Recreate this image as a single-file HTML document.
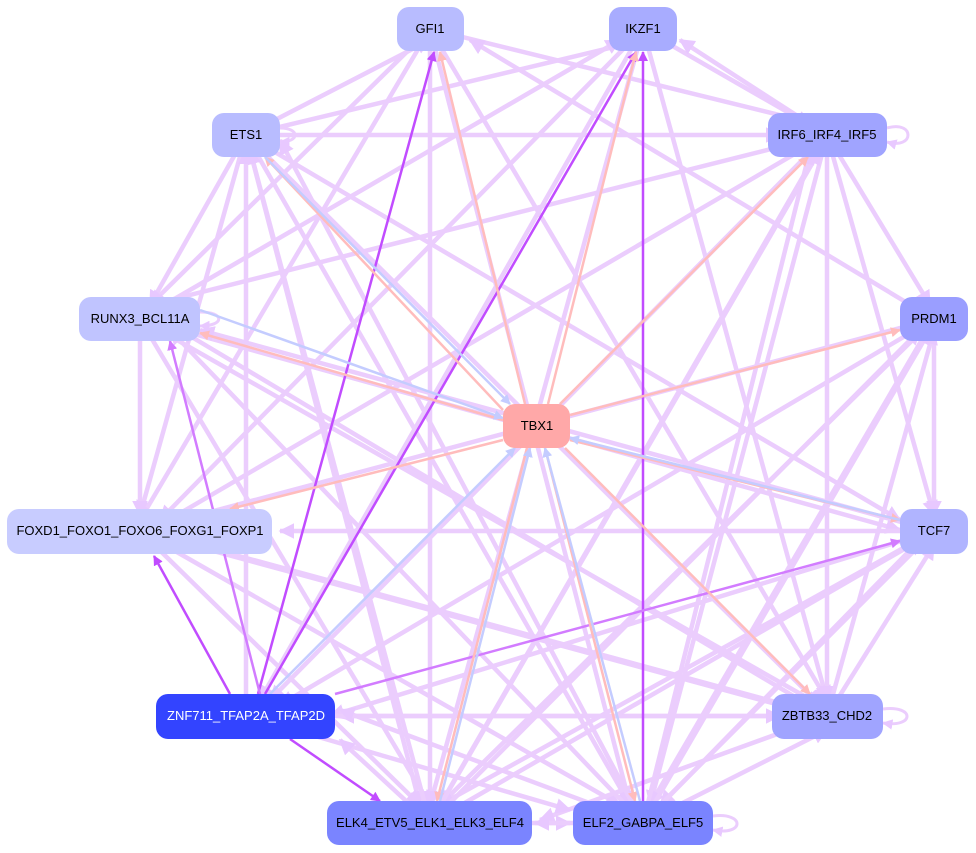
<!DOCTYPE html>
<html><head><meta charset="utf-8"><style>
html,body{margin:0;padding:0;background:#fff;}
svg{display:block;font-family:"Liberation Sans",sans-serif;}
</style></head><body>
<svg width="976" height="853" viewBox="0 0 976 853">
<defs>
<marker id="a" viewBox="0 0 10 10" refX="9" refY="5" markerWidth="3.5" markerHeight="3.5" orient="auto"><path d="M0,0L10,5L0,10z" fill="#e8c8ff"/></marker>
<marker id="p" viewBox="0 0 10 10" refX="9" refY="5" markerWidth="4" markerHeight="4" orient="auto"><path d="M0,0L10,5L0,10z" fill="#c14cff"/></marker>
<marker id="m" viewBox="0 0 10 10" refX="9" refY="5" markerWidth="4" markerHeight="4" orient="auto"><path d="M0,0L10,5L0,10z" fill="#d27cff"/></marker>
<marker id="r" viewBox="0 0 10 10" refX="9" refY="5" markerWidth="4" markerHeight="4" orient="auto"><path d="M0,0L10,5L0,10z" fill="#ffbcbc"/></marker>
<marker id="b" viewBox="0 0 10 10" refX="9" refY="5" markerWidth="4" markerHeight="4" orient="auto"><path d="M0,0L10,5L0,10z" fill="#c4ccff"/></marker>
</defs>
<g stroke="#ebcdfd" stroke-width="4.5" fill="none" marker-end="url(#a)">
<line x1="246" y1="135" x2="430" y2="40"/>
<line x1="246" y1="135" x2="643" y2="40"/>
<line x1="246" y1="135" x2="780" y2="135"/>
<line x1="246" y1="135" x2="150" y2="305"/>
<line x1="246" y1="135" x2="140" y2="515"/>
<line x1="246" y1="135" x2="820" y2="705"/>
<line x1="246" y1="135" x2="420" y2="805"/>
<line x1="246" y1="135" x2="630" y2="805"/>
<line x1="246" y1="135" x2="900" y2="520"/>
<line x1="643" y1="29" x2="810" y2="125"/>
<line x1="643" y1="29" x2="160" y2="520"/>
<line x1="643" y1="29" x2="430" y2="805"/>
<line x1="643" y1="29" x2="827" y2="700"/>
<line x1="643" y1="29" x2="260" y2="700"/>
<line x1="430" y1="29" x2="430" y2="805"/>
<line x1="430" y1="29" x2="140" y2="520"/>
<line x1="430" y1="29" x2="630" y2="805"/>
<line x1="430" y1="29" x2="827" y2="700"/>
<line x1="430" y1="29" x2="820" y2="125"/>
<line x1="430" y1="29" x2="150" y2="305"/>
<line x1="827" y1="135" x2="680" y2="40"/>
<line x1="827" y1="135" x2="930" y2="305"/>
<line x1="827" y1="135" x2="934" y2="515"/>
<line x1="827" y1="135" x2="827" y2="700"/>
<line x1="827" y1="135" x2="160" y2="525"/>
<line x1="827" y1="135" x2="440" y2="805"/>
<line x1="827" y1="135" x2="650" y2="805"/>
<line x1="827" y1="135" x2="150" y2="305"/>
<line x1="827" y1="135" x2="270" y2="700"/>
<line x1="934" y1="319" x2="470" y2="40"/>
<line x1="934" y1="319" x2="934" y2="515"/>
<line x1="934" y1="319" x2="180" y2="520"/>
<line x1="934" y1="319" x2="440" y2="805"/>
<line x1="934" y1="319" x2="650" y2="805"/>
<line x1="934" y1="319" x2="280" y2="705"/>
<line x1="140" y1="319" x2="140" y2="515"/>
<line x1="140" y1="319" x2="430" y2="805"/>
<line x1="140" y1="319" x2="820" y2="705"/>
<line x1="140" y1="319" x2="900" y2="530"/>
<line x1="140" y1="319" x2="620" y2="40"/>
<line x1="934" y1="531" x2="280" y2="531"/>
<line x1="934" y1="531" x2="440" y2="805"/>
<line x1="934" y1="531" x2="660" y2="805"/>
<line x1="934" y1="531" x2="330" y2="716"/>
<line x1="934" y1="531" x2="200" y2="330"/>
<line x1="140" y1="531" x2="820" y2="716"/>
<line x1="140" y1="531" x2="620" y2="805"/>
<line x1="140" y1="531" x2="420" y2="805"/>
<line x1="827" y1="716" x2="340" y2="716"/>
<line x1="827" y1="716" x2="180" y2="540"/>
<line x1="827" y1="716" x2="540" y2="820"/>
<line x1="827" y1="716" x2="180" y2="330"/>
<line x1="827" y1="716" x2="934" y2="545"/>
<line x1="827" y1="716" x2="934" y2="330"/>
<line x1="246" y1="716" x2="780" y2="716"/>
<line x1="246" y1="716" x2="570" y2="810"/>
<line x1="430" y1="823" x2="570" y2="823"/>
<line x1="643" y1="823" x2="535" y2="823"/>
<line x1="430" y1="823" x2="340" y2="740"/>
<line x1="643" y1="823" x2="340" y2="710"/>
<line x1="643" y1="823" x2="170" y2="330"/>
<line x1="643" y1="823" x2="280" y2="140"/>
<line x1="430" y1="823" x2="820" y2="150"/>
<line x1="430" y1="823" x2="920" y2="540"/>
<line x1="430" y1="823" x2="920" y2="330"/>
<line x1="643" y1="823" x2="810" y2="150"/>
<line x1="643" y1="823" x2="920" y2="540"/>
<line x1="643" y1="823" x2="930" y2="330"/>
<line x1="643" y1="823" x2="827" y2="730"/>
<line x1="430" y1="823" x2="250" y2="150"/>
<line x1="246" y1="716" x2="246" y2="150"/>
</g>
<g fill="none" stroke="#ebcdfd" stroke-width="3" marker-end="url(#a)">
<path d="M887,128 C915,120 915,150 887,142"/>
<path d="M280,128 C300,128 300,142 280,142"/>
<path d="M200,312 C225,312 225,326 200,326"/>
<path d="M883,709 C915,705 915,728 883,723"/>
<path d="M713,816 C745,812 745,836 713,830"/>
</g>
<g stroke="#c14cff" stroke-width="2.5" marker-end="url(#p)">
<line x1="258" y1="694" x2="434" y2="52"/>
<line x1="265" y1="694" x2="636" y2="52"/>
<line x1="643" y1="801" x2="643" y2="52"/>
<line x1="230" y1="694" x2="154" y2="556"/>
<line x1="290" y1="739" x2="380" y2="801"/>
</g>
<g stroke="#d27cff" stroke-width="2.5" marker-end="url(#m)">
<line x1="335" y1="694" x2="900" y2="541"/>
<line x1="260" y1="694" x2="170" y2="341"/>
</g>
<g stroke="#ffbcbc" stroke-width="2.5" marker-end="url(#r)">
<line x1="525" y1="404" x2="440" y2="52"/>
<line x1="548" y1="404" x2="636" y2="52"/>
<line x1="560" y1="404" x2="808" y2="157"/>
<line x1="570" y1="415" x2="900" y2="330"/>
<line x1="503" y1="420" x2="200" y2="333"/>
<line x1="503" y1="410" x2="265" y2="157"/>
<line x1="503" y1="440" x2="230" y2="509"/>
<line x1="570" y1="440" x2="900" y2="520"/>
<line x1="565" y1="448" x2="810" y2="694"/>
<line x1="527" y1="448" x2="437" y2="801"/>
<line x1="545" y1="448" x2="635" y2="801"/>
</g>
<g stroke="#c4ccff" stroke-width="2.5" marker-end="url(#b)">
<line x1="270" y1="694" x2="515" y2="448"/>
<line x1="200" y1="310" x2="503" y2="418"/>
<line x1="900" y1="520" x2="570" y2="438"/>
<line x1="440" y1="801" x2="530" y2="448"/>
<line x1="640" y1="801" x2="545" y2="448"/>
<line x1="265" y1="157" x2="510" y2="404"/>
</g>
<g stroke="none">
<rect x="397" y="7" width="67" height="44" rx="12" fill="#b8bcff"/>
<rect x="609" y="7" width="68" height="44" rx="12" fill="#a8acff"/>
<rect x="212" y="113" width="68" height="44" rx="12" fill="#b8bcff"/>
<rect x="768" y="113" width="119" height="44" rx="12" fill="#a0a4ff"/>
<rect x="79" y="297" width="121" height="44" rx="12" fill="#c0c4ff"/>
<rect x="900" y="297" width="68" height="44" rx="12" fill="#9a9eff"/>
<rect x="503" y="404" width="67" height="44" rx="12" fill="#ffa8a8"/>
<rect x="7" y="509" width="265" height="45" rx="12" fill="#c8ccff"/>
<rect x="900" y="509" width="68" height="45" rx="12" fill="#b0b4ff"/>
<rect x="156" y="694" width="179" height="45" rx="12" fill="#3344ff"/>
<rect x="772" y="694" width="111" height="45" rx="12" fill="#a0a4ff"/>
<rect x="327" y="801" width="205" height="44" rx="12" fill="#7a84ff"/>
<rect x="573" y="801" width="140" height="44" rx="12" fill="#7a84ff"/>
</g>
<g font-size="13" text-anchor="middle" fill="#000">
<text x="430" y="33">GFI1</text>
<text x="643" y="33">IKZF1</text>
<text x="246" y="139">ETS1</text>
<text x="827" y="139">IRF6_IRF4_IRF5</text>
<text x="140" y="323">RUNX3_BCL11A</text>
<text x="934" y="323">PRDM1</text>
<text x="537" y="430">TBX1</text>
<text x="140" y="535">FOXD1_FOXO1_FOXO6_FOXG1_FOXP1</text>
<text x="934" y="535">TCF7</text>
<text x="246" y="720" fill="#fff">ZNF711_TFAP2A_TFAP2D</text>
<text x="827" y="720">ZBTB33_CHD2</text>
<text x="430" y="827">ELK4_ETV5_ELK1_ELK3_ELF4</text>
<text x="643" y="827">ELF2_GABPA_ELF5</text>
</g>
</svg>
</body></html>
